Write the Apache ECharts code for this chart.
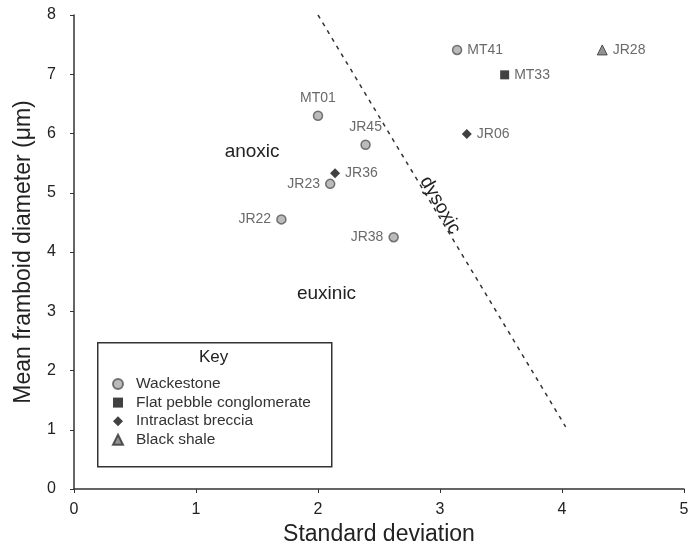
<!DOCTYPE html>
<html>
<head>
<meta charset="utf-8">
<script src="https://cdn.jsdelivr.net/npm/echarts@6/dist/echarts.min.js"></script>
<style>html,body{margin:0;padding:0;background:#fff}#c{width:692px;height:556px}</style>
</head>
<body>
<div id="c"></div>
<script>
// Data
const wackestoneNames = ['MT01','JR45','JR23','JR22','JR38','MT41'];
const wackestoneX = [2.0, 2.39, 2.10, 1.70, 2.62, 3.14];
const wackestoneY = [6.3, 5.81, 5.15, 4.55, 4.25, 7.41];
const wackestonePos = ['top','top','left','left','left','right'];

const flatPebbleNames = ['MT33'];
const flatPebbleX = [3.53];
const flatPebbleY = [6.99];
const flatPebblePos = ['right'];

const brecciaNames = ['JR36','JR06'];
const brecciaX = [2.14, 3.22];
const brecciaY = [5.33, 5.99];
const brecciaPos = ['right','right'];

const shaleNames = ['JR28'];
const shaleX = [4.33];
const shaleY = [7.41];
const shalePos = ['right'];

const boundaryX = [2.0, 4.03];
const boundaryY = [8.0, 1.05];

const regionNames = ['anoxic','euxinic','dysoxic'];
const regionX = [1.46, 2.07, 3.0];
const regionY = [5.70, 3.29, 4.79];
const regionRotDeg = [0, 0, -60];

const legendNames = ['Wackestone','Flat pebble conglomerate','Intraclast breccia','Black shale'];

const FONT = '"Liberation Sans", Arial, sans-serif';

function pts(names, xs, ys, pos){
  return names.map((n,i)=>({name:n, value:[xs[i], ys[i]], label:{position:pos[i]}}));
}

const labelStyle = {show:true, formatter:'{b}', color:'#444', fontSize:14, fontFamily:FONT, distance:5};

const chart = echarts.init(document.getElementById('c'));
const baseGraphic = [
  {type:'rect', left:97, top:342, shape:{width:234, height:124},
   style:{fill:'#fff', stroke:'#333', lineWidth:1.5}, z:-1},
  {type:'text', left:199, top:349,
   style:{text:'Key', fontSize:17, fill:'#222', fontFamily:FONT}}
];
chart.setOption({
  animation:false,
  backgroundColor:'#fff',
  grid:{left:74, right:8, top:15, bottom:67},
  xAxis:{
    type:'value', min:0, max:5, interval:1,
    name:'Standard deviation', nameLocation:'middle', nameGap:33,
    nameTextStyle:{fontSize:23, color:'#222', fontFamily:FONT},
    axisLine:{show:true, lineStyle:{color:'#333', width:1.5}},
    axisTick:{show:true, inside:false, length:4, lineStyle:{color:'#333'}},
    axisLabel:{color:'#222', fontSize:16, fontFamily:FONT, margin:13},
    splitLine:{show:false}
  },
  yAxis:{
    type:'value', min:0, max:8, interval:1,
    name:'Mean framboid diameter (μm)', nameLocation:'middle', nameGap:39,
    nameTextStyle:{fontSize:23, color:'#222', fontFamily:FONT},
    axisLine:{show:true, lineStyle:{color:'#333', width:1.5}},
    axisTick:{show:true, inside:false, length:4, lineStyle:{color:'#333'}},
    axisLabel:{color:'#222', fontSize:16, fontFamily:FONT, margin:18},
    splitLine:{show:false}
  },
  legend:{
    orient:'vertical', left:107, top:371, itemGap:2.6, itemWidth:10, itemHeight:10,
    textStyle:{fontSize:15.5, color:'#333', fontFamily:FONT, padding:[0,0,0,8]},
    data:legendNames
  },
  graphic:baseGraphic,
  series:[
    {type:'line', data:boundaryX.map((x,i)=>[x,boundaryY[i]]), symbol:'none', silent:true,
     lineStyle:{color:'#333', width:1.5, type:[4,5]}, z:1},
    {type:'scatter', name:legendNames[0], symbol:'circle', symbolSize:9,
     itemStyle:{color:'#aaa', borderColor:'#555', borderWidth:1.5},
     label:labelStyle, data:pts(wackestoneNames, wackestoneX, wackestoneY, wackestonePos), z:3},
    {type:'scatter', name:legendNames[1], symbol:'rect', symbolSize:9,
     itemStyle:{color:'#111'},
     label:labelStyle, data:pts(flatPebbleNames, flatPebbleX, flatPebbleY, flatPebblePos), z:3},
    {type:'scatter', name:legendNames[2], symbol:'diamond', symbolSize:10,
     itemStyle:{color:'#111'},
     label:labelStyle, data:pts(brecciaNames, brecciaX, brecciaY, brecciaPos), z:3},
    {type:'scatter', name:legendNames[3], symbol:'triangle', symbolSize:10,
     itemStyle:{color:'#777', borderColor:'#333', borderWidth:1},
     label:labelStyle, data:pts(shaleNames, shaleX, shaleY, shalePos), z:3}
  ]
});
// Region labels placed through the chart's own coordinate conversion
const regionGraphics = regionNames.map((n,i)=>{
  const p = chart.convertToPixel({gridIndex:0}, [regionX[i], regionY[i]]);
  return {type:'text', x:p[0], y:p[1], rotation:regionRotDeg[i]*Math.PI/180,
    style:{text:n, fontSize:19, fill:'#222', fontFamily:FONT, align:'center', verticalAlign:'middle'}, z:2};
});
chart.setOption({graphic: baseGraphic.concat(regionGraphics)});
</script>
</body>
</html>
